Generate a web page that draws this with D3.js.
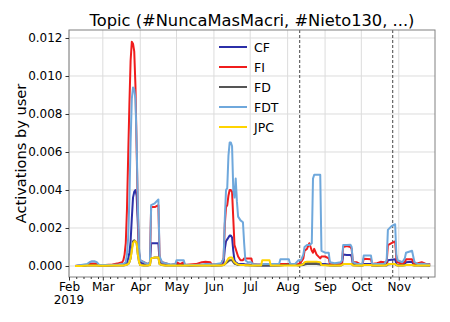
<!DOCTYPE html>
<html>
<head>
<meta charset="utf-8">
<script src="https://cdn.jsdelivr.net/npm/d3@7/dist/d3.min.js"></script>
<style>
body{margin:0;background:#fff;}
svg text{font-family:"DejaVu Sans",sans-serif;fill:#000;}
</style>
</head>
<body>
<svg id="chart" width="450" height="322"></svg>
<script>
// data (activations by user, smoothed)
var dates = ["2019-02-06","2019-02-11","2019-02-16","2019-02-18","2019-02-20","2019-02-22","2019-02-24","2019-02-26",
  "2019-03-03","2019-03-09","2019-03-14","2019-03-17","2019-03-18","2019-03-19","2019-03-20","2019-03-21",
  "2019-03-22","2019-03-23","2019-03-24","2019-03-25","2019-03-26","2019-03-27","2019-03-28","2019-03-29",
  "2019-03-30","2019-03-31","2019-04-01","2019-04-04","2019-04-07","2019-04-09","2019-04-10","2019-04-13",
  "2019-04-16","2019-04-17","2019-04-19","2019-04-22","2019-04-26","2019-04-30","2019-05-01","2019-05-04",
  "2019-05-07","2019-05-08","2019-05-12","2019-05-17","2019-05-22","2019-05-25","2019-05-29","2019-05-30",
  "2019-06-03","2019-06-07","2019-06-09","2019-06-10","2019-06-11","2019-06-12","2019-06-13","2019-06-14",
  "2019-06-15","2019-06-16","2019-06-17","2019-06-18","2019-06-19","2019-06-20","2019-06-21","2019-06-23",
  "2019-06-25","2019-06-26","2019-06-27","2019-06-29","2019-07-02","2019-07-03","2019-07-07","2019-07-10",
  "2019-07-11","2019-07-17","2019-07-18","2019-07-21","2019-07-25","2019-07-26","2019-08-02","2019-08-03",
  "2019-08-07","2019-08-10","2019-08-12","2019-08-14","2019-08-15","2019-08-17","2019-08-19","2019-08-21",
  "2019-08-22","2019-08-23","2019-08-25","2019-08-28","2019-08-29","2019-09-01","2019-09-04","2019-09-05",
  "2019-09-09","2019-09-14","2019-09-15","2019-09-16","2019-09-19","2019-09-22","2019-09-23","2019-09-24",
  "2019-09-27","2019-09-30","2019-10-02","2019-10-03","2019-10-09","2019-10-10","2019-10-14","2019-10-17",
  "2019-10-20","2019-10-22","2019-10-23","2019-10-26","2019-10-29","2019-10-30","2019-10-31","2019-11-04",
  "2019-11-06","2019-11-07","2019-11-12","2019-11-13","2019-11-14","2019-11-17","2019-11-20","2019-11-23",
  "2019-11-27"];

var cf = [0,0.00003,0.00005,0.0001,0.00012,0.00012,0.0001,0.00003,
  0.00003,0.00004,0.00005,0.00006,0.00008,0.0001,0.00015,0.0002,
  0.0004,0.0007,0.0013,0.0025,0.0036,0.0039,0.004,0.0037,
  0.0022,0.0006,0.0002,0.0001,0.00005,0.0001,0.0012,0.0012,
  0.0012,0.0002,0.0001,0.00008,0.00005,0.00005,0.0001,0.0001,
  0.0001,0.00005,0.00003,0.00004,0.00005,0.00005,0.00005,0.00003,
  0.00004,0.00005,0.0002,0.0009,0.0013,0.0014,0.0015,0.0016,
  0.0016,0.0015,0.0008,0.0003,0.0002,0.00015,0.0001,0.0001,
  0.0001,0.0001,0.00008,0.00008,0.00005,0.00005,0.00003,0.00002,
  0.00002,0.00002,0.00002,0.00003,0.00004,0.00005,0.00005,0.00008,
  0.00005,0.00005,0.00008,0.0001,0.00015,0.00015,0.00018,0.00015,
  0.0002,0.0002,0.0002,0.00015,0.0001,0.0001,0.00008,0.00005,
  0.00004,0.00005,0.0001,0.0006,0.00058,0.00058,0.0005,0.0001,
  0.00005,0.00004,0.00005,0.0001,0.0001,0.00004,0.00003,0.00004,
  0.00005,0.00008,0.0003,0.00033,0.00035,0.0001,0.00005,0.00005,
  0.0001,0.0002,0.00022,0.0001,0.00005,0.00005,0.00004,0.00004,
  0.00003];

var fi = [0,0.00003,0.00005,0.0001,0.00012,0.00012,0.0001,0.00004,
  0.00005,0.00008,0.00015,0.0002,0.0003,0.0006,0.0012,0.003,
  0.0058,0.0085,0.0108,0.0118,0.0117,0.0113,0.0095,0.0062,
  0.0028,0.0007,0.0003,0.0002,0.0001,0.0002,0.0031,0.0031,
  0.0032,0.0004,0.0002,0.00015,0.00005,0.0001,0.0002,0.0001,
  0.0002,0.00005,0.00008,0.0001,0.0002,0.00022,0.0002,0.00008,
  0.00008,0.0001,0.0004,0.0022,0.0031,0.0032,0.0037,0.004,
  0.004,0.0039,0.0025,0.0011,0.0009,0.0007,0.0005,0.0003,
  0.0003,0.0004,0.0004,0.0004,0.0004,0.0001,0.00008,0.00008,
  0.0001,0.0001,0.00008,0.00008,0.0001,0.0001,0.0001,0.0001,
  0.00008,0.0001,0.0002,0.0004,0.0008,0.0009,0.0012,0.0008,
  0.0007,0.0009,0.0006,0.0004,0.0005,0.0005,0.0004,0.0001,
  0.00008,0.0001,0.0002,0.001,0.00105,0.001,0.0009,0.0002,
  0.0002,0.0001,0.0001,0.00038,0.00035,0.0001,0.00015,0.00022,
  0.0002,0.0002,0.0011,0.0012,0.0013,0.0004,0.0002,0.00012,
  0.0002,0.00035,0.00035,0.0002,0.0001,0.00015,0.0002,0.00012,
  0.0001];

var fd = [0,0,0.00002,0.00003,0.00003,0.00003,0.00003,0.00001,
  0.00001,0.00002,0.00002,0.00003,0.00003,0.00004,0.00005,0.00008,
  0.0001,0.0002,0.0004,0.0009,0.0013,0.00135,0.0013,0.0012,
  0.0006,0.0002,0.00005,0.00003,0.00003,0.00005,0.0004,0.00045,
  0.00045,0.0001,0.00005,0.00003,0.00002,0.00002,0.00003,0.00003,
  0.00003,0.00002,0.00002,0.00002,0.00003,0.00003,0.00003,0.00002,
  0.00002,0.00003,0.00005,0.0001,0.00015,0.0002,0.00025,0.0003,
  0.0003,0.0003,0.0002,0.00012,0.0001,0.00008,0.00005,0.00005,
  0.00005,0.00005,0.00004,0.00004,0.00003,0.00003,0.00002,0.00002,
  0.00002,0.00002,0.00002,0.00002,0.00003,0.00003,0.00008,0.00012,
  0.00008,0.00003,0.00004,0.00005,0.00008,0.0001,0.00012,0.0001,
  0.0001,0.0001,0.0001,0.00008,0.00005,0.00005,0.00004,0.00003,
  0.00002,0.00003,0.00005,0.0001,0.0001,0.0001,0.0001,0.00004,
  0.00003,0.00003,0.00003,0.00005,0.00005,0.00003,0.00002,0.00003,
  0.00003,0.00003,0.00008,0.0001,0.0001,0.00005,0.00003,0.00003,
  0.00004,0.00005,0.00005,0.00004,0.00003,0.00003,0.00003,0.00002,
  0.00002];

var fdt = [0,0.00005,0.0001,0.0002,0.00025,0.00025,0.0002,0.00006,
  0.00005,0.00006,0.00008,0.0001,0.00012,0.00015,0.0002,0.0006,
  0.0015,0.0035,0.0065,0.0088,0.0094,0.0093,0.0088,0.0065,
  0.0032,0.0009,0.0003,0.0002,0.0001,0.0002,0.0032,0.0033,
  0.0035,0.0005,0.0002,0.00015,0.00008,0.0001,0.0003,0.0003,
  0.0003,0.00008,0.00005,0.00005,0.00008,0.0001,0.0001,0.00008,
  0.0001,0.00015,0.0004,0.0025,0.004,0.0041,0.0058,0.0065,
  0.0065,0.0063,0.004,0.0036,0.0046,0.0034,0.0026,0.0024,
  0.0023,0.0012,0.0003,0.0002,0.0002,0.0001,0.00008,0.00008,
  0.0001,0.0001,0.0001,0.0001,0.00012,0.00035,0.00035,0.00012,
  0.0001,0.0003,0.0003,0.0006,0.001,0.0011,0.0011,0.0012,
  0.0046,0.0048,0.0048,0.0048,0.0008,0.0007,0.0007,0.0002,
  0.00015,0.0002,0.0003,0.0011,0.0011,0.00112,0.001,0.0002,
  0.00012,0.0001,0.00012,0.00055,0.00055,0.00012,0.0001,0.0001,
  0.00012,0.0003,0.0019,0.0021,0.0022,0.0006,0.0003,0.0002,
  0.0004,0.0007,0.0008,0.0005,0.0002,0.0001,0.00012,0.0001,
  0.00008];

var jpc = [0,0,0.00002,0.00003,0.00003,0.00003,0.00003,0.00001,
  0.00001,0.00002,0.00002,0.00003,0.00003,0.00004,0.00005,0.00008,
  0.0001,0.0002,0.0004,0.0008,0.0012,0.0013,0.0013,0.0012,
  0.0006,0.0002,0.00005,0.00003,0.00003,0.00005,0.0004,0.00045,
  0.00045,0.0001,0.00005,0.00003,0.00002,0.00002,0.00003,0.00003,
  0.00003,0.00002,0.00002,0.00002,0.00003,0.00003,0.00003,0.00002,
  0.00002,0.00003,0.00005,0.0001,0.0002,0.0003,0.0004,0.00045,
  0.00045,0.00045,0.0003,0.0002,0.00015,0.0001,0.00008,0.00005,
  0.00005,0.00005,0.00004,0.00004,0.00003,0.00003,0.00003,0.00003,
  0.0003,0.0003,0.00003,0.00003,0.00003,0.00003,0.00003,0.00003,
  0.00003,0.00003,0.00005,0.0001,0.0002,0.00022,0.00023,0.00023,
  0.00023,0.00023,0.00022,0.0002,0.00005,0.00004,0.00003,0.00003,
  0.00002,0.00003,0.00005,0.0001,0.0001,0.0001,0.0001,0.00004,
  0.00003,0.00003,0.00003,0.00005,0.00005,0.00003,0.00002,0.00003,
  0.00003,0.00005,0.0001,0.0001,0.0001,0.00005,0.00003,0.00003,
  0.00004,0.00005,0.00005,0.00004,0.00003,0.00003,0.00003,0.00002,
  0.00002];

var seriesNames = ["CF","FI","FD","FDT","JPC"];
var seriesValues = [cf, fi, fd, fdt, jpc];
var seriesColors = ["#2b2fa8","#f01c1c","#555555","#6fa8dc","#ffd400"];
var electionDates = ["2019-08-11","2019-10-27"];
var yTicks = [0,0.002,0.004,0.006,0.008,0.010,0.012];
var minorDays = [7,13,19,25];
var chartTitle = "Topic (#NuncaMasMacri, #Nieto130, ...)";
var yTitle = "Activations by user";

var parseDate = d3.timeParse("%Y-%m-%d");
var margin = {left:69, right:15, top:30, bottom:45};
var width = 450, height = 322;

var svg = d3.select("#chart");

var x = d3.scaleTime()
          .domain([parseDate("2019-02-01"), parseDate("2019-12-01")])
          .range([margin.left, width - margin.right]);

var y = d3.scaleLinear()
          .domain([-0.000579, 0.012421])
          .range([height - margin.bottom, margin.top]);

var monthTicks = d3.timeMonth.range(parseDate("2019-02-01"), parseDate("2019-11-02"));
var minorTicks = [];
d3.timeMonth.range(parseDate("2019-02-01"), parseDate("2019-12-01")).forEach(function(m){
  minorDays.forEach(function(dd){
    minorTicks.push(new Date(m.getFullYear(), m.getMonth(), dd));
  });
});

// grid
var grid = svg.append("g").attr("class","grid");
grid.selectAll(".vgrid")
    .data(monthTicks).enter()
    .append("line")
    .attr("x1", function(d){ return x(d) })
    .attr("x2", function(d){ return x(d) })
    .attr("y1", margin.top)
    .attr("y2", height - margin.bottom)
    .attr("stroke","#dcdcdc")
    .attr("stroke-width",1);
grid.selectAll(".hgrid")
    .data(yTicks).enter()
    .append("line")
    .attr("x1", margin.left)
    .attr("x2", width - margin.right)
    .attr("y1", function(d){ return y(d) })
    .attr("y2", function(d){ return y(d) })
    .attr("stroke","#dcdcdc")
    .attr("stroke-width",1);

// election day markers
svg.selectAll(".election")
   .data(electionDates).enter()
   .append("line")
   .attr("class","election")
   .attr("x1", function(d){ return x(parseDate(d)) })
   .attr("x2", function(d){ return x(parseDate(d)) })
   .attr("y1", margin.top)
   .attr("y2", height - margin.bottom)
   .attr("stroke","#444")
   .attr("stroke-width",1)
   .attr("stroke-dasharray","3,2");

// series lines
var line = d3.line()
             .x(function(d){ return x(d.date) })
             .y(function(d){ return y(d.value) });

var series = seriesNames.map(function(name, i){
  return {
    name: name,
    color: seriesColors[i],
    points: dates.map(function(d, j){ return {date: parseDate(d), value: seriesValues[i][j]} })
  };
});

svg.append("g")
   .selectAll("path")
   .data(series).enter()
   .append("path")
   .attr("d", function(d){ return line(d.points) })
   .attr("fill","none")
   .attr("stroke", function(d){ return d.color })
   .attr("stroke-width",2)
   .attr("stroke-linejoin","round");

// frame
svg.append("rect")
   .attr("x", margin.left)
   .attr("y", margin.top)
   .attr("width", width - margin.left - margin.right)
   .attr("height", height - margin.top - margin.bottom)
   .attr("fill","none")
   .attr("stroke","#808080")
   .attr("stroke-width",1);

// axes
var xMinor = svg.append("g")
   .attr("transform","translate(0," + (height - margin.bottom) + ")")
   .call(d3.axisBottom(x).tickValues(minorTicks).tickFormat("").tickSize(2));
xMinor.select(".domain").remove();
xMinor.selectAll(".tick line").attr("stroke","#333");

var xAxis = svg.append("g")
   .attr("transform","translate(0," + (height - margin.bottom) + ")")
   .call(d3.axisBottom(x).tickValues(monthTicks).tickFormat(d3.timeFormat("%b")).tickSize(3.5).tickPadding(2));
xAxis.select(".domain").remove();
xAxis.selectAll(".tick line").attr("stroke","#333");
xAxis.selectAll(".tick text").attr("font-size","12px").attr("font-family","DejaVu Sans");
xAxis.append("text")
     .attr("x", x(monthTicks[0]))
     .attr("y", 27)
     .attr("text-anchor","middle")
     .attr("font-size","12px")
     .text("2019");

var yAxis = svg.append("g")
   .attr("transform","translate(" + margin.left + ",0)")
   .call(d3.axisLeft(y).tickValues(yTicks).tickFormat(d3.format(".3f")).tickSize(3.5).tickPadding(3));
yAxis.select(".domain").remove();
yAxis.selectAll(".tick line").attr("stroke","#333");
yAxis.selectAll(".tick text").attr("font-size","12px").attr("font-family","DejaVu Sans");

// titles
svg.append("text")
   .attr("x", (margin.left + width - margin.right)/2)
   .attr("y", 26)
   .attr("text-anchor","middle")
   .attr("font-size","16.3px")
   .text(chartTitle);

svg.append("text")
   .attr("transform","translate(26," + ((margin.top + height - margin.bottom)/2) + ") rotate(-90)")
   .attr("text-anchor","middle")
   .attr("font-size","14.6px")
   .text(yTitle);

// legend
var legend = svg.append("g")
   .attr("transform","translate(219,47)");
var item = legend.selectAll(".item")
   .data(series).enter()
   .append("g")
   .attr("transform", function(d,i){ return "translate(0," + (i*20) + ")" });
item.append("line")
    .attr("x1",0).attr("x2",28)
    .attr("stroke", function(d){ return d.color })
    .attr("stroke-width",2);
item.append("text")
    .attr("x",35)
    .attr("y",4.5)
    .attr("font-size","12.5px")
    .text(function(d){ return d.name });
</script>
</body>
</html>
